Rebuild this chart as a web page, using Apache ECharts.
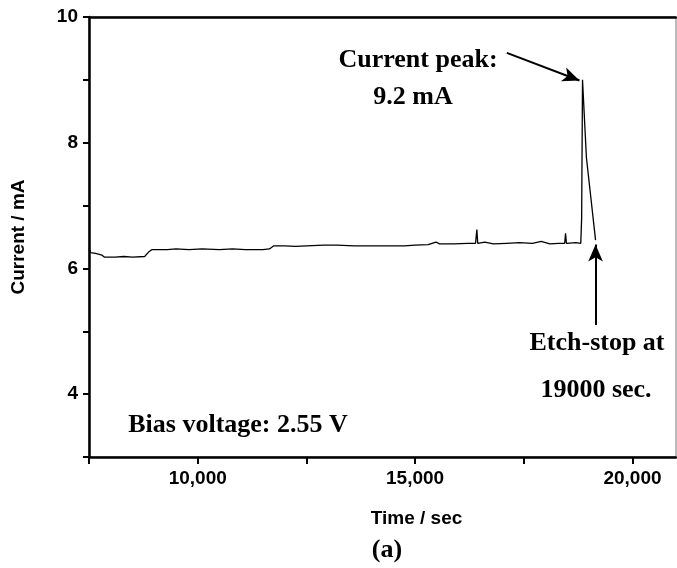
<!DOCTYPE html>
<html>
<head>
<meta charset="utf-8">
<script src="https://cdn.jsdelivr.net/npm/echarts@6/dist/echarts.min.js"></script>
<style>
  html, body { margin: 0; padding: 0; background: #fff; }
  #main { width: 677px; height: 568px; }
</style>
</head>
<body>
<div id="main"></div>
<script>
// etch current vs time
var timeSec = [7500, 7540, 7650, 7800, 7850, 8100, 8300, 8500, 8780, 8870, 8950, 9300, 9500, 9800,
  10100, 10500, 10800, 11100, 11500, 11650, 11750, 12000, 12250, 12500, 12900, 13200, 13600,
  14000, 14400, 14750, 15000, 15300, 15480, 15560, 15900, 16200, 16390, 16420, 16440, 16600,
  16800, 17100, 17400, 17700, 17900, 18100, 18300, 18440, 18460, 18480, 18700, 18810, 18830,
  18850, 18940, 19150];
var currentMA = [6.32, 6.25, 6.24, 6.21, 6.18, 6.18, 6.19, 6.18, 6.19, 6.26, 6.30, 6.30, 6.31, 6.30,
  6.31, 6.30, 6.31, 6.30, 6.30, 6.31, 6.36, 6.36, 6.35, 6.36, 6.37, 6.37, 6.36,
  6.36, 6.36, 6.36, 6.37, 6.38, 6.42, 6.39, 6.39, 6.40, 6.40, 6.62, 6.40, 6.42,
  6.39, 6.40, 6.41, 6.40, 6.43, 6.39, 6.40, 6.40, 6.56, 6.40, 6.41, 6.40, 6.80,
  9.00, 7.76, 6.45];

var xTickValues = [7500, 10000, 12500, 15000, 17500, 20000];
var xLabelValues = [10000, 15000, 20000];
var yTickValues = [3, 4, 5, 6, 7, 8, 9, 10];
var yLabelValues = [4, 6, 8, 10];

var peakArrow = [[17110, 9.43], [18780, 8.99]];
var stopArrow = [[19150, 5.10], [19150, 6.38]];

var chart = echarts.init(document.getElementById('main'));

var sans = 'Liberation Sans';

function thousands(v) {
  return String(v).replace(/\B(?=(\d{3})+(?!\d))/g, ',');
}

function note(text, x, y) {
  return {
    type: 'text', x: x, y: y,
    style: { text: text, font: 'bold 26px "Liberation Serif"', fill: '#000', align: 'center', verticalAlign: 'middle' }
  };
}

var option = {
  animation: false,
  backgroundColor: '#fff',
  grid: { left: 89, top: 17, right: 1, bottom: 111, show: true, borderColor: '#777', borderWidth: 1 },
  xAxis: [{
    type: 'value', min: 7500, max: 21000,
    name: 'Time / sec', nameLocation: 'middle', nameGap: 52,
    nameTextStyle: { fontFamily: sans, fontWeight: 'bold', fontSize: 19, color: '#000', padding: [0, 0, 0, 68] },
    axisLine: { lineStyle: { color: '#000', width: 2.5 } },
    axisTick: { inside: false, length: 7, customValues: xTickValues, lineStyle: { color: '#000', width: 2 } },
    axisLabel: {
      margin: 12, color: '#000', fontFamily: sans, fontWeight: 'bold', fontSize: 19,
      customValues: xLabelValues, formatter: thousands
    },
    splitLine: { show: false }
  }, {
    type: 'value', position: 'top', min: 7500, max: 21000,
    axisLine: { lineStyle: { color: '#000', width: 2.5 } },
    axisTick: { show: false }, axisLabel: { show: false }, splitLine: { show: false }
  }],
  yAxis: {
    type: 'value', min: 3, max: 10,
    name: 'Current / mA', nameLocation: 'middle', nameGap: 61,
    nameTextStyle: { fontFamily: sans, fontWeight: 'bold', fontSize: 19, color: '#000' },
    axisLine: { lineStyle: { color: '#000', width: 2.5 } },
    axisTick: { inside: false, length: 6, customValues: yTickValues, lineStyle: { color: '#000', width: 2 } },
    axisLabel: {
      margin: 11, color: '#000', fontFamily: sans, fontWeight: 'bold', fontSize: 19,
      customValues: yLabelValues
    },
    splitLine: { show: false }
  },
  series: [{
    type: 'line',
    data: timeSec.map(function (t, i) { return [t, currentMA[i]]; }),
    symbol: 'none',
    lineStyle: { color: '#000', width: 1.3 },
    markLine: {
      silent: true,
      symbol: ['none', 'arrow'],
      symbolSize: [11, 17],
      label: { show: false },
      lineStyle: { color: '#000', width: 2, type: 'solid' },
      data: [
        [{ coord: peakArrow[0] }, { coord: peakArrow[1] }],
        [{ coord: stopArrow[0] }, { coord: stopArrow[1] }]
      ]
    }
  }],
  graphic: [
    note('Current peak:', 418, 60),
    note('9.2 mA', 413, 97),
    note('Etch-stop at', 597, 343),
    note('19000 sec.', 596, 390),
    note('Bias voltage: 2.55 V', 238, 425),
    note('(a)', 387, 550)
  ]
};

chart.setOption(option);
</script>
</body>
</html>
